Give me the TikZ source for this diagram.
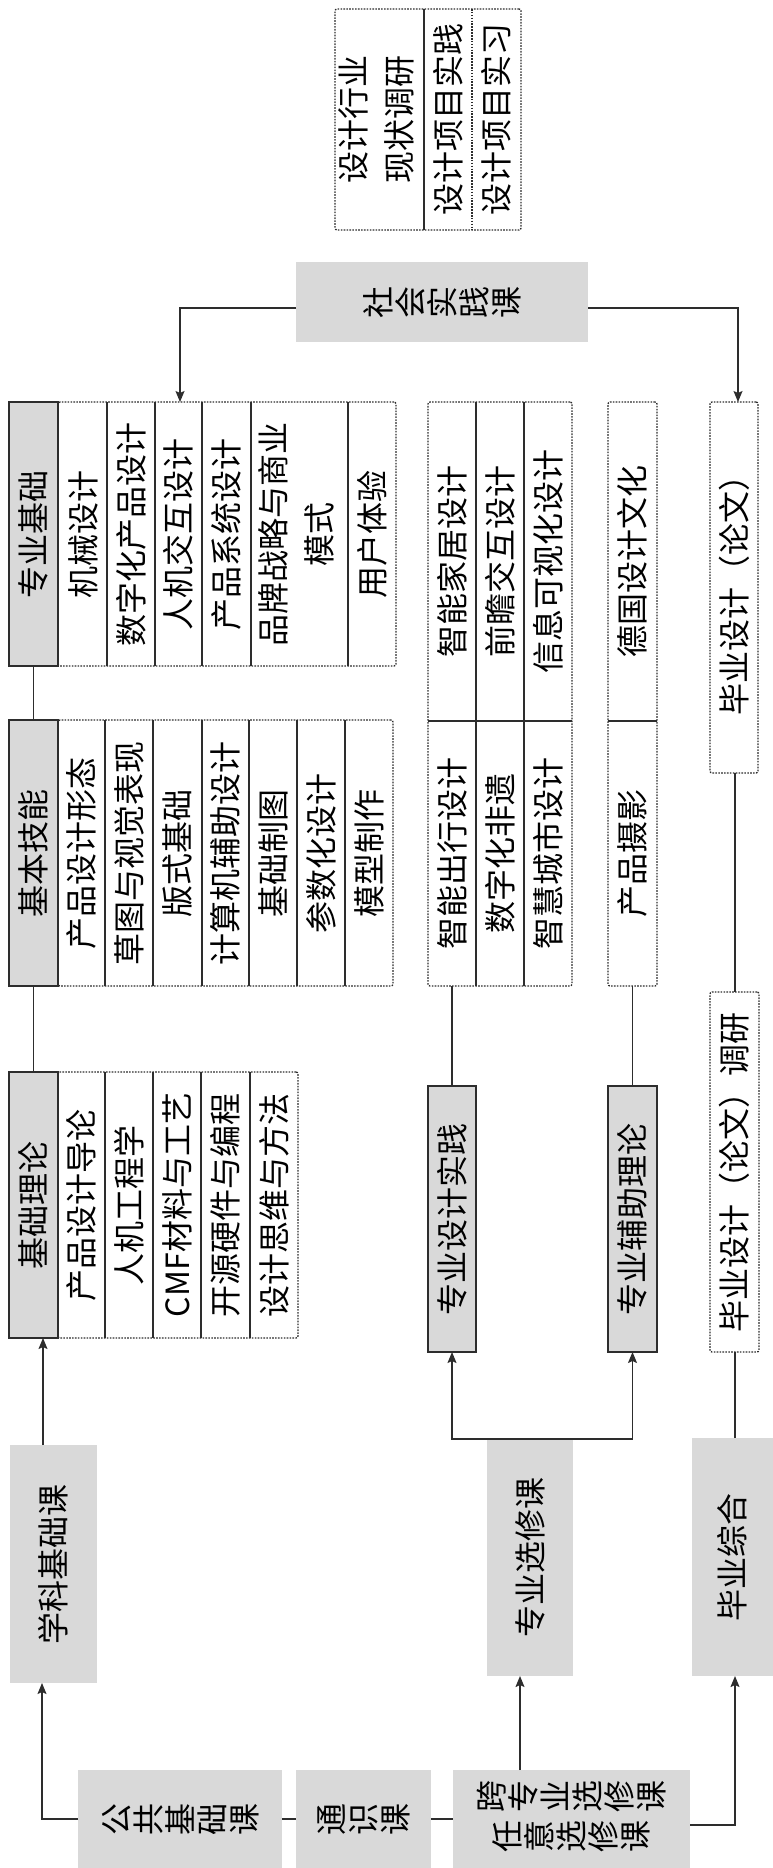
\documentclass[tikz,border=0pt]{standalone}
\usepackage{fontspec}
\setmainfont{Noto Sans CJK SC}
\usepackage{graphicx}
\usetikzlibrary{arrows.meta}
\definecolor{gfill}{RGB}{217,217,217}
\definecolor{ln}{RGB}{45,45,45}
\newcommand\R[1]{\rotatebox{90}{#1}}
\newcommand\Rtwo[2]{\rotatebox{90}{\begin{tabular}{@{}c@{}}#1\\#2\end{tabular}}}
\newcommand\gbox[1]{\rotatebox[origin=c]{90}{\makebox[1em]{\rule[-0.12em]{0pt}{1em}#1}}}
\def\Gloop#1{\ifx#1\relax\else\gbox{#1}\expandafter\Gloop\fi}
\newcommand\G[1]{\Gloop#1\relax}
\tikzset{
  gbx/.style={rectangle, fill=gfill, inner sep=0pt, outer sep=0pt},
  hdr/.style={rectangle, fill=gfill, draw=ln, line width=1.5pt, inner sep=0pt, outer sep=0pt},
  cell/.style={rectangle, inner sep=0pt, outer sep=0pt},
  dotbox/.style={rectangle, draw=ln, dash pattern=on 1.6pt off 1.3pt, line width=1.3pt, rounded corners=2pt, inner sep=0pt, outer sep=0pt},
  div/.style={draw=ln, line width=1.2pt},
  ddiv/.style={draw=ln, line width=1.2pt, dash pattern=on 1.6pt off 1.3pt},
  conn/.style={draw=ln, line width=1.3pt},
  arr/.style={conn, -{Stealth[length=11pt,width=9pt,inset=2pt]}}
}
\begin{document}
\begin{tikzpicture}[x=1pt,y=-1pt,font=\fontsize{32pt}{46pt}\selectfont]
\useasboundingbox (0,0) rectangle (773,1868);

% ---------- top group ----------
\node[dotbox, minimum width=186pt, minimum height=221pt] (tg) at (428,119.5) {};
\node[cell, minimum width=89pt, minimum height=221pt] (t1) at (379.5,119.5) {\Rtwo{设计行业}{现状调研}};
\node[cell, minimum width=48pt, minimum height=221pt] (t2) at (448,119.5) {\R{设计项目实践}};
\node[cell, minimum width=49pt, minimum height=221pt] (t3) at (496.5,119.5) {\R{设计项目实习}};
\draw[div] (t2.north west) -- (t2.south west);
\draw[ddiv] (t2.north east) -- (t2.south east);

% ---------- social practice ----------
\node[gbx, minimum width=292pt, minimum height=80pt] (sh) at (442,302) {\G{社会实践课}};

% ---------- 专业基础 ----------
\node[dotbox, minimum width=338pt, minimum height=264pt] (zj) at (227,534) {};
\node[hdr, minimum width=49pt, minimum height=264pt] (zjh) at (33.5,534) {\R{专业基础}};
\node[cell, minimum width=48pt, minimum height=264pt] (z1) at (83,534) {\R{机械设计}};
\node[cell, minimum width=48pt, minimum height=264pt] (z2) at (131,534) {\R{数字化产品设计}};
\node[cell, minimum width=47pt, minimum height=264pt] (z3) at (178.5,534) {\R{人机交互设计}};
\node[cell, minimum width=49pt, minimum height=264pt] (z4) at (226.5,534) {\R{产品系统设计}};
\node[cell, minimum width=97pt, minimum height=264pt] (z5) at (299.5,534) {\Rtwo{品牌战略与商业}{模式}};
\node[cell, minimum width=48pt, minimum height=264pt] (z6) at (372,534) {\R{用户体验}};
\foreach \c in {z1,z2,z3,z4,z5} \draw[div] (\c.north east) -- (\c.south east);

% ---------- 基本技能 ----------
\node[dotbox, minimum width=335pt, minimum height=266pt] (jn) at (225.5,853) {};
\node[hdr, minimum width=49pt, minimum height=266pt] (jnh) at (33.5,853) {\R{基本技能}};
\node[cell, minimum width=47pt, minimum height=266pt] (n1) at (81.5,853) {\R{产品设计形态}};
\node[cell, minimum width=48pt, minimum height=266pt] (n2) at (129,853) {\R{草图与视觉表现}};
\node[cell, minimum width=49pt, minimum height=266pt] (n3) at (177.5,853) {\R{版式基础}};
\node[cell, minimum width=47pt, minimum height=266pt] (n4) at (225.5,853) {\R{计算机辅助设计}};
\node[cell, minimum width=48pt, minimum height=266pt] (n5) at (273,853) {\R{基础制图}};
\node[cell, minimum width=48pt, minimum height=266pt] (n6) at (321,853) {\R{参数化设计}};
\node[cell, minimum width=48pt, minimum height=266pt] (n7) at (369,853) {\R{模型制作}};
\foreach \c in {n1,n2,n3,n4,n5,n6} \draw[div] (\c.north east) -- (\c.south east);

% ---------- 基础理论 ----------
\node[dotbox, minimum width=240pt, minimum height=266pt] (jl) at (178,1205) {};
\node[hdr, minimum width=49pt, minimum height=266pt] (jlh) at (33.5,1205) {\R{基础理论}};
\node[cell, minimum width=47pt, minimum height=266pt] (l1) at (81.5,1205) {\R{产品设计导论}};
\node[cell, minimum width=48pt, minimum height=266pt] (l2) at (129,1205) {\R{人机工程学}};
\node[cell, minimum width=48pt, minimum height=266pt] (l3) at (177,1205) {\R{CMF材料与工艺}};
\node[cell, minimum width=49pt, minimum height=266pt] (l4) at (225.5,1205) {\R{开源硬件与编程}};
\node[cell, minimum width=48pt, minimum height=266pt] (l5) at (274,1205) {\R{设计思维与方法}};
\foreach \c in {l1,l2,l3,l4} \draw[div] (\c.north east) -- (\c.south east);

% ---------- middle group 1 ----------
\node[dotbox, minimum width=144pt, minimum height=584pt] (m1) at (500,694) {};
\node[cell, minimum width=48pt, minimum height=319pt] (u1) at (452,561.5) {\R{智能家居设计}};
\node[cell, minimum width=48pt, minimum height=319pt] (u2) at (500,561.5) {\R{前瞻交互设计}};
\node[cell, minimum width=48pt, minimum height=319pt] (u3) at (548,561.5) {\R{信息可视化设计}};
\node[cell, minimum width=48pt, minimum height=265pt] (w1) at (452,853.5) {\R{智能出行设计}};
\node[cell, minimum width=48pt, minimum height=265pt] (w2) at (500,853.5) {\R{数字化非遗}};
\node[cell, minimum width=48pt, minimum height=265pt] (w3) at (548,853.5) {\R{智慧城市设计}};
\draw[div] (u1.south west) -- (u3.south east);
\draw[div] (u1.north east) -- (w1.south east);
\draw[div] (u2.north east) -- (w2.south east);
\node[hdr, minimum width=48pt, minimum height=266pt] (sjh) at (452,1219) {\R{专业设计实践}};

% ---------- middle group 2 ----------
\node[dotbox, minimum width=49pt, minimum height=584pt] (m2) at (632.5,694) {};
\node[cell, minimum width=49pt, minimum height=319pt] (v1) at (632.5,561.5) {\R{德国设计文化}};
\node[cell, minimum width=49pt, minimum height=265pt] (v2) at (632.5,853.5) {\R{产品摄影}};
\draw[div] (v1.south west) -- (v1.south east);
\node[hdr, minimum width=49pt, minimum height=266pt] (fzh) at (632.5,1219) {\R{专业辅助理论}};

% ---------- graduation ----------
\node[dotbox, minimum width=48pt, minimum height=371pt] (bs) at (734,587.5) {\R{毕业设计（论文）}};
\node[dotbox, minimum width=49pt, minimum height=360pt] (bsd) at (734.5,1172) {\R{毕业设计（论文）调研}};

% ---------- tall gray boxes ----------
\node[gbx, minimum width=87pt, minimum height=238pt] (xk) at (53.5,1564) {\R{学科基础课}};
\node[gbx, minimum width=86pt, minimum height=237pt] (zx) at (530,1557.5) {\R{专业选修课}};
\node[gbx, minimum width=81pt, minimum height=238pt] (by) at (732.5,1557) {\R{毕业综合}};

% ---------- bottom boxes ----------
\node[gbx, minimum width=204pt, minimum height=98pt] (gg) at (180,1819) {\G{公共基础课}};
\node[gbx, minimum width=135pt, minimum height=98pt] (ts) at (363.5,1819) {\G{通识课}};
\node[gbx, minimum width=237pt, minimum height=98pt] (kz) at (571.5,1819)
  {\begin{tabular}{@{}c@{}}\G{跨专业选修课}\\[-6pt]\G{任意选修课}\end{tabular}};

% ---------- connectors ----------
\coordinate (a1) at (43,0);
\coordinate (a2) at (520,0);
\coordinate (a3) at (735,0);
\coordinate (a4) at (180,0);
\coordinate (a5) at (738,0);

\draw[conn] (gg.east) -- (ts.west);
\draw[conn] (ts.east) -- (kz.west);
\draw[arr] (gg.west) -| ([xshift=-11.5pt]xk.south);
\draw[arr] (xk.north -| a1) -- (jlh.south -| a1);
\draw[arr] (kz.north -| a2) -- (zx.south -| a2);
\draw[arr] ([yshift=-6pt]kz.east) -| (by.south -| a3);
\draw[arr] (zx.north) -| (sjh.south);
\draw[arr] (zx.north) -| (fzh.south);
\draw[conn] (by.north -| a3) -- (bsd.south -| a3);
\draw[conn] (bsd.north -| a3) -- (bs.south -| a3);
\draw[conn] (zjh.south) -- (jnh.north);
\draw[conn] (jnh.south) -- (jlh.north);
\draw[conn] (sjh.north) -- (sjh.north |- m1.south);
\draw[conn] (fzh.north) -- (fzh.north |- m2.south);
\draw[arr] ([yshift=-6pt]sh.west) -| (zj.north -| a4);
\draw[arr] ([yshift=-6pt]sh.east) -| (bs.north -| a5);
\end{tikzpicture}
\end{document}
